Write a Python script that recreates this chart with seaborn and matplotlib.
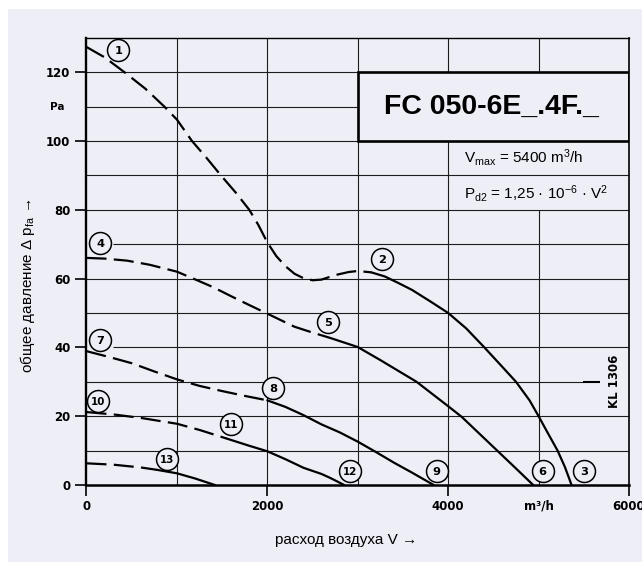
import numpy as np
import pandas as pd
import matplotlib
matplotlib.use("Agg")
import matplotlib.pyplot as plt
import seaborn as sns
from matplotlib.patches import Rectangle

# ---------------- data ----------------
c1_x = [0, 200, 418, 650, 860, 1000, 1166, 1330, 1486, 1650, 1800, 1900, 2000, 2100, 2200, 2300, 2400, 2500, 2600, 2750, 2900, 3000, 3150]
c1_y = [127.3, 124.3, 120, 115.2, 110, 106.2, 100, 95, 90, 85, 80, 75.6, 70.5, 66.5, 63.6, 61.4, 60.1, 59.5, 59.7, 61.0, 61.9, 62.2, 61.8]
c2_x = [3150, 3300, 3450, 3600, 3800, 4000, 4200, 4400, 4600, 4750, 4900, 5000, 5100, 5210, 5290, 5365]
c2_y = [61.8, 60.6, 58.7, 56.7, 53.4, 50.0, 45.5, 40.0, 34.3, 30.0, 24.6, 20.0, 15.2, 10.0, 5.3, 0]
c4_x = [0, 200, 450, 700, 1000, 1180, 1400, 1620, 1800, 2000, 2150, 2300, 2500, 2700]
c4_y = [66, 65.8, 65.2, 64, 62, 60, 57.5, 54.6, 52.3, 49.8, 47.9, 46, 44.3, 42.7]
c5_x = [2700, 3000, 3250, 3650, 4000, 4150, 4350, 4550, 4750, 4940]
c5_y = [42.7, 40.1, 36.3, 30, 22.9, 19.8, 14.8, 9.8, 4.8, 0]
c7_x = [0, 250, 500, 750, 1000, 1250, 1500, 1750, 2000]
c7_y = [38.9, 37.2, 35.4, 33, 30.7, 28.8, 27.3, 25.9, 24.6]
c8_x = [2000, 2200, 2400, 2600, 2800, 3000, 3200, 3400, 3600, 3840]
c8_y = [24.6, 22.7, 20.3, 17.6, 15.3, 12.6, 9.6, 6.5, 3.6, 0]
c10_x = [0, 300, 600, 1000, 1250, 1550]
c10_y = [21.2, 20.5, 19.5, 17.8, 16.0, 13.5]
c11_x = [1550, 1800, 2000, 2200, 2400, 2600, 2700, 2850]
c11_y = [13.5, 11.4, 9.8, 7.5, 5.0, 3.2, 2.0, 0]
c13a_x = [0, 300, 600, 780]
c13a_y = [6.3, 5.9, 5.1, 4.4]
c13b_x = [780, 1000, 1200, 1420]
c13b_y = [4.4, 3.4, 1.9, 0]

label_num = [1, 2, 3, 4, 5, 6, 7, 8, 9, 10, 11, 12, 13]
label_x = [351, 3269, 5500, 149, 2672, 5045, 149, 2064, 3873, 130, 1597, 2919, 886]
label_y = [126.3, 65.7, 4.2, 70.2, 47.3, 4.2, 42.1, 28.1, 4.2, 24.5, 17.7, 4.2, 7.5]

y_ticks = [0, 20, 40, 60, 80, 100, 120]
x_ticks = [0, 2000, 4000, 5000, 6000]
x_tick_labels = ["0", "2000", "4000", "m³/h", "6000"]

title = "FC 050-6E_.4F._"
vmax_text = "V$_{max}$ = 5400 m$^{3}$/h"
pd2_text = "P$_{d2}$ = 1,25 · 10$^{-6}$ · V$^{2}$"
code_text = "KL 1306"
xlabel = "расход воздуха V →"
ylabel = "общее давление Δ p$_{fa}$ →"

# ---------------- style ----------------
sns.set_theme(style="white")
plt.rcParams["font.family"] = ["Liberation Sans", "DejaVu Sans"]
plt.rcParams["mathtext.fontset"] = "custom"
plt.rcParams["mathtext.rm"] = "Liberation Sans"
plt.rcParams["mathtext.it"] = "Liberation Sans:italic"
plt.rcParams["mathtext.bf"] = "Liberation Sans:bold"
plt.rcParams["mathtext.default"] = "rm"
for key in ["text.color", "axes.labelcolor", "xtick.color", "ytick.color"]:
    plt.rcParams[key] = "black"

BG = "#EEEEF6"
GRID = "#1c1c1c"

segs = [
    (c1_x, c1_y, "dashed"), (c2_x, c2_y, "solid"),
    (c4_x, c4_y, "dashed"), (c5_x, c5_y, "solid"),
    (c7_x, c7_y, "dashed"), (c8_x, c8_y, "solid"),
    (c10_x, c10_y, "dashed"), (c11_x, c11_y, "solid"),
    (c13a_x, c13a_y, "dashed"), (c13b_x, c13b_y, "solid"),
]
frames = []
for i, (xs, ys, kind) in enumerate(segs):
    frames.append(pd.DataFrame({"x": xs, "y": ys, "seg": i, "kind": kind}))
df = pd.concat(frames, ignore_index=True)

fig = plt.figure(figsize=(6.42, 5.62), dpi=100, facecolor="white")
fig.patches.append(Rectangle((8 / 642, 0), 1, 553 / 562, transform=fig.transFigure,
                             facecolor=BG, edgecolor="none", zorder=-10))
ax = fig.add_axes([86.5 / 642, 77 / 562, 542.5 / 642, 447.3 / 562])
ax.set_facecolor("none")
ax.set_xlim(0, 6000)
ax.set_ylim(0, 130)

# grid (drawn as segments because parts are interrupted)
hgrid = [(10, 0, 6000), (20, 0, 6000), (30, 0, 5486), (40, 293, 6000), (50, 0, 6000),
         (60, 0, 6000), (70, 293, 6000), (80, 0, 6000), (90, 0, 6000),
         (100, 0, 3000), (110, 0, 3000), (120, 0, 3000)]
for yv, xa, xb in hgrid:
    ax.hlines(yv, xa, xb, color=GRID, lw=0.8, zorder=1)
ax.hlines(30, 5486, 5674, color="black", lw=1.5, zorder=1)
vgrid = [(1000, 0, 130), (2000, 0, 130), (3000, 0, 100), (3000, 120, 130),
         (4000, 0, 100), (4000, 120, 130), (5000, 0, 80), (5000, 120, 130)]
for xv, ya, yb in vgrid:
    ax.vlines(xv, ya, yb, color=GRID, lw=0.8, zorder=1)

ax.add_patch(Rectangle((3000, 100), 3000, 20, fill=False, lw=1.9, ec="black", zorder=3))

# curves
sns.lineplot(data=df, x="x", y="y", units="seg", estimator=None, style="kind",
             dashes={"dashed": (9, 3.3), "solid": ""}, color="black", linewidth=1.6,
             sort=False, legend=False, ax=ax, zorder=4)

# circled curve numbers
sns.scatterplot(x=label_x, y=label_y, s=250, marker="o", color=BG, edgecolor="black",
                linewidth=1.1, zorder=5, legend=False, ax=ax, clip_on=False)
for n, lx, ly in zip(label_num, label_x, label_y):
    ax.text(lx, ly, str(n), ha="center", va="center_baseline", fontsize=8.2 if n < 10 else 7.4,
            fontweight="bold", family="DejaVu Sans", zorder=6)

# texts in the box
ax.text(4480, 110, title, ha="center", va="center", fontsize=20.5, fontweight="bold")
ax.text(4170, 95.2, vmax_text, ha="left", va="center", fontsize=11)
ax.text(4170, 84.7, pd2_text, ha="left", va="center", fontsize=11)
ax.text(5840, 30, code_text, ha="center", va="center", rotation=90, fontsize=8.5,
        fontweight="bold", family="DejaVu Sans")

# axes, ticks
for side, lw in [("left", 1.7), ("bottom", 1.8), ("top", 1.0), ("right", 1.2)]:
    ax.spines[side].set_linewidth(lw)
    ax.spines[side].set_color("black")
    ax.spines[side].set_visible(True)
ax.set_yticks(y_ticks)
ax.set_yticklabels([str(v) for v in y_ticks], fontweight="bold", fontsize=8.5, family="DejaVu Sans")
ax.set_xticks(x_ticks)
ax.set_xticklabels(x_tick_labels, fontweight="bold", fontsize=8.5, family="DejaVu Sans")
ax.tick_params(axis="y", direction="out", length=8, width=1.2, pad=3.5, left=True, color="black")
ax.tick_params(axis="x", direction="out", length=8, width=1.2, pad=2.5, bottom=True, color="black")
ax.xaxis.get_major_ticks()[3].tick1line.set_visible(False)
ax.text(-0.054, 110, "Pa", transform=ax.get_yaxis_transform(), ha="center", va="center",
        fontsize=7.5, fontweight="bold", family="DejaVu Sans")
ax.set_xlabel("")
ax.set_ylabel("")

fig.text(28 / 642, 1 - 286 / 562, ylabel, rotation=90, ha="center", va="center", fontsize=11)
fig.text(346.5 / 642, 1 - 540 / 562, xlabel, ha="center", va="center", fontsize=11)

fig.savefig("out.png", dpi=100, facecolor=fig.get_facecolor())
